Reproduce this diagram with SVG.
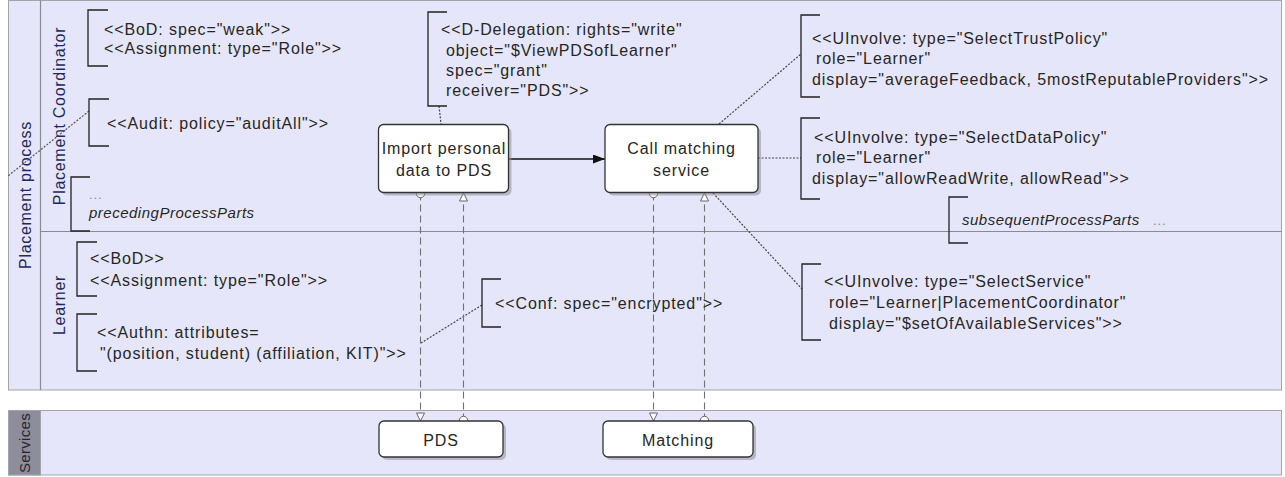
<svg xmlns="http://www.w3.org/2000/svg" width="1285" height="477" viewBox="0 0 1285 477">
<style>
.t{font-family:"Liberation Sans",Arial,sans-serif;font-size:16px;fill:#262626;letter-spacing:0.9px}
.c{text-anchor:middle}
.it{font-style:italic;font-size:15px;letter-spacing:0.5px}
.dots{fill:#888;font-size:13px}
.lane{font-family:"Liberation Sans",Arial,sans-serif;font-size:16px;fill:#1e2a5c;letter-spacing:0.7px;text-anchor:middle}
.br{fill:none;stroke:#222;stroke-width:1.3}
.pool{fill:#e6e6fa;stroke:#a3a3ab;stroke-width:1}
.sep{stroke:#8a8a92;stroke-width:1.2}
.box{fill:#fff;stroke:#333;stroke-width:1.3}
.shadow{fill:#8e8e9e;opacity:0.55}
.assoc{fill:none;stroke:#444;stroke-width:1.2;stroke-dasharray:2,1.5}
.flow{fill:none;stroke:#707070;stroke-width:1.1;stroke-dasharray:7,4}
.seq{fill:none;stroke:#111;stroke-width:1.3}
</style>
<defs>
<marker id="arrow" markerUnits="userSpaceOnUse" markerWidth="13" markerHeight="10" refX="12" refY="4.5" orient="auto">
<path d="M0,0 L12,4.5 L0,9 Z" fill="#111"/>
</marker>
<marker id="otri" markerUnits="userSpaceOnUse" markerWidth="12" markerHeight="12" refX="9" refY="5" orient="auto">
<path d="M1,1 L9,5 L1,9 Z" fill="#fff" stroke="#666" stroke-width="1"/>
</marker>
<marker id="ocirc" markerUnits="userSpaceOnUse" markerWidth="12" markerHeight="12" refX="6" refY="6" orient="auto">
<circle cx="6" cy="6" r="4.2" fill="#fff" stroke="#666" stroke-width="1"/>
</marker>
</defs>

<g id="pool-placement">
<rect class="pool" x="8.5" y="0.5" width="1273" height="389.5"/>
<line class="sep" x1="40.5" y1="0.5" x2="40.5" y2="390"/>
<line class="sep" x1="40.5" y1="231.5" x2="1281.5" y2="231.5"/>
<text class="lane" transform="translate(31,195) rotate(-90)">Placement process</text>
</g>
<g id="lane-coordinator">
<text class="lane" transform="translate(65,116) rotate(-90)">Placement Coordinator</text>
</g>
<g id="lane-learner">
<text class="lane" transform="translate(65,305) rotate(-90)">Learner</text>
</g>
<g id="pool-services">
<rect class="pool" x="8.5" y="410.5" width="1273" height="64.5"/>
<rect x="8.5" y="410.5" width="32" height="64.5" fill="#8d8d9b" stroke="#a3a3ab"/>
<text class="lane" style="fill:#262630;font-size:15px;letter-spacing:0.3px" transform="translate(30,443) rotate(-90)">Services</text>
</g>

<g id="connectors">
<line class="seq" x1="509" y1="159" x2="605" y2="159" marker-end="url(#arrow)"/>
<line class="assoc" x1="439" y1="106" x2="441" y2="124"/>
<line class="assoc" x1="89" y1="111" x2="8" y2="176" style="stroke:#555"/>
<line class="assoc" x1="482" y1="305" x2="421" y2="343"/>
<line class="assoc" x1="719" y1="124" x2="801" y2="54"/>
<line class="assoc" x1="758" y1="158" x2="801" y2="158"/>
<line class="assoc" x1="713" y1="193" x2="802" y2="289"/>
<line class="flow" x1="420.5" y1="193.5" x2="420.5" y2="421" marker-start="url(#ocirc)" marker-end="url(#otri)"/>
<line class="flow" x1="463.5" y1="420.5" x2="463.5" y2="193" marker-start="url(#ocirc)" marker-end="url(#otri)"/>
<line class="flow" x1="653.5" y1="193.5" x2="653.5" y2="421" marker-start="url(#ocirc)" marker-end="url(#otri)"/>
<line class="flow" x1="704.5" y1="420.5" x2="704.5" y2="193" marker-start="url(#ocirc)" marker-end="url(#otri)"/>
</g>

<g id="task-import">
<rect class="shadow" x="381.5" y="127.5" width="130" height="68" rx="5"/>
<rect class="box" x="378.5" y="124.5" width="130" height="68" rx="5"/>
<text class="t c" x="444" y="154">Import personal</text>
<text class="t c" x="444" y="175.5">data to PDS</text>
</g>
<g id="task-call-matching">
<rect class="shadow" x="608" y="127.5" width="153" height="68" rx="5"/>
<rect class="box" x="605" y="124.5" width="153" height="68" rx="5"/>
<text class="t c" x="681.5" y="154">Call matching</text>
<text class="t c" x="681.5" y="175.5">service</text>
</g>
<g id="service-pds">
<rect class="shadow" x="382" y="424" width="124" height="36" rx="5"/>
<rect class="box" x="379" y="421" width="124" height="36" rx="5"/>
<text class="t c" x="441" y="445.5">PDS</text>
</g>
<g id="service-matching">
<rect class="shadow" x="606" y="424" width="150" height="36" rx="5"/>
<rect class="box" x="603" y="421" width="150" height="36" rx="5"/>
<text class="t c" x="678" y="445.5">Matching</text>
</g>

<g id="ann-bod-coordinator">
<path class="br" d="M108,10 H88 V66 H108"/>
<text class="t" x="104" y="34.5">&lt;&lt;BoD: spec="weak"&gt;&gt;</text>
<text class="t" x="104" y="53.5">&lt;&lt;Assignment: type="Role"&gt;&gt;</text>
</g>
<g id="ann-audit">
<path class="br" d="M109,99 H89 V146 H109"/>
<text class="t" x="107" y="128.5">&lt;&lt;Audit: policy="auditAll"&gt;&gt;</text>
</g>
<g id="ann-preceding">
<path class="br" d="M90,177 H71 V231 H90"/>
<text class="t dots" x="89" y="199">...</text>
<text class="t it" x="89" y="218">precedingProcessParts</text>
</g>
<g id="ann-delegation">
<path class="br" d="M447,12 H428 V106 H447"/>
<text class="t" x="441" y="34.5">&lt;&lt;D-Delegation: rights="write"</text>
<text class="t" x="446" y="55.5">object="$ViewPDSofLearner"</text>
<text class="t" x="446" y="75.5">spec="grant"</text>
<text class="t" x="446" y="95.5">receiver="PDS"&gt;&gt;</text>
</g>
<g id="ann-trust-policy">
<path class="br" d="M820,15 H801 V97 H820"/>
<text class="t" x="812" y="43.5">&lt;&lt;UInvolve: type="SelectTrustPolicy"</text>
<text class="t" x="816" y="64">role="Learner"</text>
<text class="t" x="812" y="84.5">display="averageFeedback, 5mostReputableProviders"&gt;&gt;</text>
</g>
<g id="ann-data-policy">
<path class="br" d="M820,118 H801 V199 H820"/>
<text class="t" x="814" y="142.5">&lt;&lt;UInvolve: type="SelectDataPolicy"</text>
<text class="t" x="816" y="163">role="Learner"</text>
<text class="t" x="812" y="183.5">display="allowReadWrite, allowRead"&gt;&gt;</text>
</g>
<g id="ann-subsequent">
<path class="br" d="M968,197 H949 V243 H968"/>
<text class="t it" x="962" y="224.5">subsequentProcessParts</text>
<text class="t dots" x="1153" y="224.5">...</text>
</g>
<g id="ann-bod-learner">
<path class="br" d="M97,242 H77 V296 H97"/>
<text class="t" x="90" y="263.5">&lt;&lt;BoD&gt;&gt;</text>
<text class="t" x="90" y="285.5">&lt;&lt;Assignment: type="Role"&gt;&gt;</text>
</g>
<g id="ann-authn">
<path class="br" d="M97,314 H77 V371 H97"/>
<text class="t" x="97" y="337.5">&lt;&lt;Authn: attributes=</text>
<text class="t" x="100" y="358.5">"(position, student) (affiliation, KIT)"&gt;&gt;</text>
</g>
<g id="ann-conf">
<path class="br" d="M501,279 H482 V327 H501"/>
<text class="t" x="495" y="308.5">&lt;&lt;Conf: spec="encrypted"&gt;&gt;</text>
</g>
<g id="ann-select-service">
<path class="br" d="M821,264 H802 V340 H821"/>
<text class="t" x="824" y="286.5">&lt;&lt;UInvolve: type="SelectService"</text>
<text class="t" x="829" y="307.5">role="Learner|PlacementCoordinator"</text>
<text class="t" x="829" y="328.5">display="$setOfAvailableServices"&gt;&gt;</text>
</g>
</svg>
